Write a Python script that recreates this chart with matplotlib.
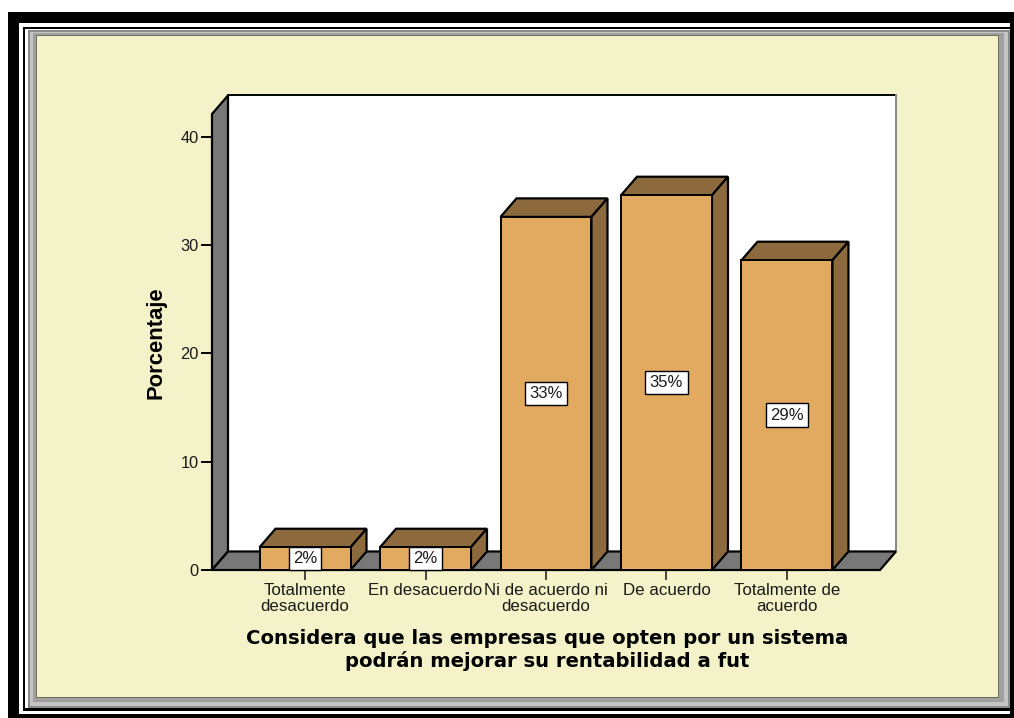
import matplotlib
matplotlib.use("Agg")
import matplotlib.pyplot as plt
from matplotlib.patches import Rectangle

categorias = ["Totalmente\ndesacuerdo", "En desacuerdo", "Ni de acuerdo ni\ndesacuerdo", "De acuerdo", "Totalmente de\nacuerdo"]
porcentajes = [2.1, 2.1, 32.6, 34.6, 28.6]
etiquetas = ["2%", "2%", "33%", "35%", "29%"]
y_ticks = [0, 10, 20, 30, 40]
titulo = "Considera que las empresas que opten por un sistema\npodrán mejorar su rentabilidad a fut"

CREMA = "#f4f2c8"
NARANJA = "#e2a960"
MARRON = "#8c6a3e"
GRIS = "#787878"
TEXTO = "#1a1a1a"
W, H = 1014, 718

fig = plt.figure(figsize=(W / 100, H / 100), dpi=100, facecolor="white")

# Marco exterior, en pixeles
bg = fig.add_axes([0, 0, 1, 1], zorder=0)
bg.set_xlim(0, W)
bg.set_ylim(H, 0)
bg.axis("off")
marcos = [
    (8, 12, 1014, 718, "black"),
    (19, 23, 1010, 714, "white"),
    (23, 27, 1010, 711, "black"),
    (25, 29, 1010, 708, "white"),
    (28, 30, 1010, 708, "#8a8a8a"),
    (30, 32, 1008, 706, "#c4c4c4"),
    (33, 33, 1004, 702, "#a0a0a0"),
    (36, 35, 999, 698, "#6e6e58"),
    (37, 36, 998, 697, CREMA),
]
for x0, y0, x1, y1, c in marcos:
    bg.add_patch(Rectangle((x0, y0), x1 - x0, y1 - y0, facecolor=c, edgecolor="none"))

# Ejes: 120.5 px por categoria, 10.825 px por unidad
ax = fig.add_axes([212 / W, 1 - 570 / H, 668 / W, 456 / H], zorder=1)
ax.patch.set_alpha(0)
ax.set_xlim(-0.772, 4.772)
ax.set_ylim(0, 42.1)
for s in ax.spines.values():
    s.set_visible(False)

dx = 16 / 120.5
dy = 18.5 / 10.825
x_min, x_max = ax.get_xlim()
y_max = ax.get_ylim()[1]
kw = dict(edgecolor="black", linewidth=1.6, clip_on=False, joinstyle="miter")

# Pared del fondo, pared izquierda y suelo
ax.fill([x_min + dx, x_max + dx, x_max + dx, x_min + dx], [dy, dy, y_max + dy, y_max + dy], facecolor="white", zorder=1, edgecolor="none", clip_on=False)
ax.plot([x_min + dx, x_max + dx], [y_max + dy, y_max + dy], color="black", linewidth=1.4, zorder=1.5, clip_on=False)
ax.plot([x_max + dx, x_max + dx], [dy, y_max + dy], color="#888888", linewidth=1.4, zorder=1.5, clip_on=False)
ax.fill([x_min, x_min + dx, x_min + dx, x_min], [0, dy, y_max + dy, y_max], facecolor=GRIS, zorder=2, **kw)
ax.fill([x_min, x_max, x_max + dx, x_min + dx], [0, 0, dy, dy], facecolor=GRIS, zorder=2, **kw)

# Barras
posiciones = list(range(len(categorias)))
ancho = 0.755
barras = ax.bar(posiciones, porcentajes, width=ancho, color=NARANJA, edgecolor="black", linewidth=1.4, zorder=4, clip_on=False)
for b, v, et in zip(barras, porcentajes, etiquetas):
    x0 = b.get_x()
    x1 = x0 + b.get_width()
    ax.fill([x0, x1, x1 + dx, x0 + dx], [v, v, v + dy, v + dy], facecolor=MARRON, zorder=3, **kw)
    ax.fill([x1, x1 + dx, x1 + dx, x1], [0, dy, v + dy, v], facecolor=MARRON, zorder=3, **kw)
    ax.text(b.get_x() + b.get_width() / 2, v / 2, et, ha="center", va="center", fontsize=12, color=TEXTO, family="Liberation Sans", zorder=6,
            bbox=dict(boxstyle="square,pad=0.26", facecolor="white", edgecolor="black", linewidth=1))

ax.set_yticks(y_ticks)
ax.set_xticks(posiciones)
ax.set_xticklabels(categorias, fontsize=12.2, color=TEXTO, family="Liberation Sans", linespacing=1.08)
ax.set_yticklabels([str(t) for t in y_ticks], fontsize=11.8, color=TEXTO, family="Liberation Sans")
ax.tick_params(axis="y", length=8, width=1.4, pad=1.5)
ax.tick_params(axis="x", length=7, width=1.4, color="#444444", pad=2.5)
ax.set_ylabel("Porcentaje", fontsize=15.8, fontweight="bold", family="Liberation Sans")
ax.yaxis.set_label_coords((167 - 212) / 668, (570 - 343) / 456)

fig.text(547 / W, 1 - 650 / H, titulo, ha="center", va="center", fontsize=14.1, fontweight="bold", family="DejaVu Sans", linespacing=1.13, zorder=5)

fig.savefig("out.png", dpi=100)
